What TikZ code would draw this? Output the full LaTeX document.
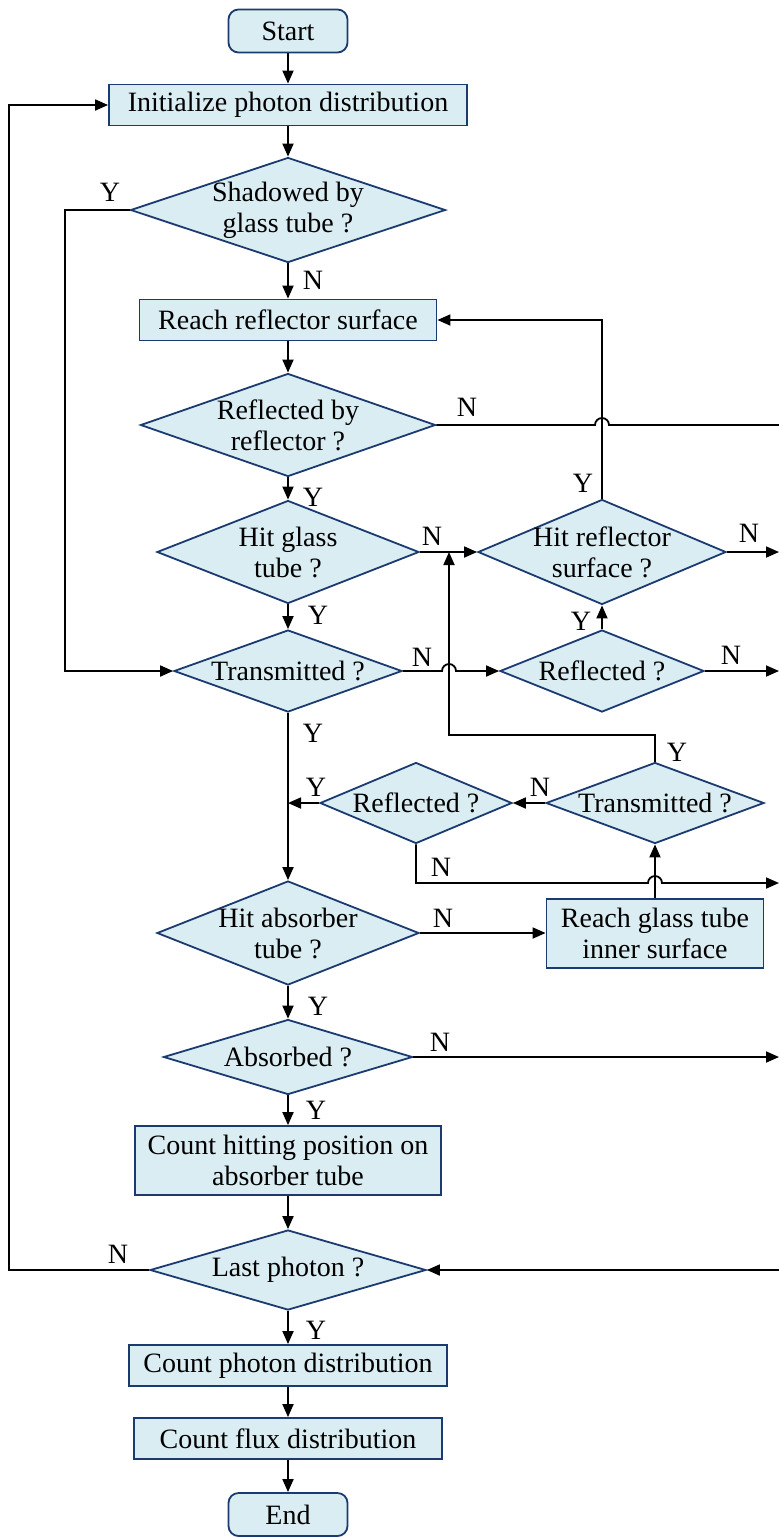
\documentclass[tikz,border=0pt]{standalone}
\usepackage{fontspec}
\setmainfont{Liberation Serif}
\usetikzlibrary{calc,shapes.geometric,arrows.meta}
\definecolor{boxfill}{HTML}{DAEDF3}
\definecolor{boxline}{HTML}{1B3A6F}

\begin{document}
\begin{tikzpicture}[x=0.5pt, y=-0.5pt, >={Triangle[length=6.5pt,width=5.5pt]},
    every node/.style={font=\fontsize{14}{15.5}\selectfont},
    term/.style={draw=boxline, fill=boxfill, line width=0.9pt, rounded corners=5pt, minimum width=59.5pt, minimum height=21.5pt, inner sep=0pt},
    proc/.style={draw=boxline, fill=boxfill, line width=0.9pt, minimum height=20.5pt, inner sep=0pt, align=center},
    dec/.style={draw=boxline, fill=boxfill, line width=0.9pt, shape=diamond, aspect=2.5, inner xsep=-12pt, inner ysep=-3pt, align=center},
    lbl/.style={inner sep=0pt},
    flow/.style={->, line width=0.9pt}]
    \useasboundingbox (0,0) rectangle (779,1539);

    % Main column
    \node[term] (start) at (288,31) {Start};
    \node[proc, minimum width=179pt] (init) at (288,105) {Initialize photon distribution};
    \node[dec, minimum width=157.5pt, minimum height=52.5pt] (shadow) at (288,210) {Shadowed by\\glass tube ?};
    \node[proc, minimum width=148.5pt] (reach) at (288,320) {Reach reflector surface};
    \node[dec, minimum width=147.5pt, minimum height=51.5pt] (refl) at (288,425) {Reflected by\\reflector ?};
    \node[dec, minimum width=131pt, minimum height=51.5pt] (hitg) at (288,552) {Hit glass\\tube ?};
    \node[dec, minimum width=114pt, minimum height=41pt] (trans) at (288,671) {Transmitted ?};
    \node[dec, minimum width=131pt, minimum height=52pt] (hita) at (288,933) {Hit absorber\\tube ?};
    \node[dec, minimum width=124.5pt, minimum height=37.5pt] (absb) at (288,1057) {Absorbed ?};
    \node[proc, minimum width=153pt, minimum height=34.5pt] (count) at (288,1160.5) {Count hitting position on\\absorber tube};
    \node[dec, minimum width=138pt, minimum height=40pt] (last) at (288,1270) {Last photon ?};
    \node[proc, minimum width=159pt] (cphot) at (288,1365.5) {Count photon distribution};
    \node[proc, minimum width=154pt] (cflux) at (288,1438.5) {Count flux distribution};
    \node[term] (end) at (288,1514.5) {End};

    % Right branch
    \node[dec, minimum width=124pt, minimum height=52.5pt] (hitr) at (602,552) {Hit reflector\\surface ?};
    \node[dec, minimum width=102pt, minimum height=41pt] (reflb) at (602,671) {Reflected ?};
    \node[dec, minimum width=109pt, minimum height=40.5pt] (transb) at (655,803) {Transmitted ?};
    \node[dec, minimum width=96pt, minimum height=40.5pt] (reflc) at (416,803) {Reflected ?};
    \node[proc, minimum width=108.5pt, minimum height=34.5pt] (inner) at (655,933.5) {Reach glass tube\\inner surface};

    % Free ends at the right edge
    \coordinate (eR1) at (779,425);
    \coordinate (eR2) at (779,552);
    \coordinate (eR3) at (779,671);
    \coordinate (eR4) at (779,883);
    \coordinate (eR5) at (779,1057);
    \coordinate (eR6) at (779,1270);
    \coordinate (vx) at (449,735);

    % Straight flow
    \draw[flow] (start) -- (init);
    \draw[flow] (init) -- (shadow);
    \draw[flow] (shadow) -- (reach);
    \draw[flow] (reach) -- (refl);
    \draw[flow] (refl) -- (hitg);
    \draw[flow] (hitg) -- (trans);
    \draw[flow] (trans) -- (hita);
    \draw[flow] (hita) -- (absb);
    \draw[flow] (absb) -- (count);
    \draw[flow] (count) -- (last);
    \draw[flow] (last) -- (cphot);
    \draw[flow] (cphot) -- (cflux);
    \draw[flow] (cflux) -- (end);

    % Loops and side branches
    \draw[flow] (shadow.west) -- ++(-65,0) |- (trans.west);
    \draw[flow] (last.west) -- ++(-140,0) |- (init.west);
    \draw[line width=0.9pt] (refl.east) -- ($(refl.east -| hitr.north)+(-7,0)$) arc[start angle=180, end angle=0, radius=3.5pt] -- (eR1);
    \draw[flow] (hitr.north) |- (reach.east);
    \draw[flow] (hitg.east) -- (hitr.west);
    \draw[flow] (hitr.east) -- (eR2);
    \draw[flow] (trans.east) -- ($(trans.east -| vx)+(-7,0)$) arc[start angle=180, end angle=0, radius=3.5pt] -- (reflb.west);
    \draw[flow] (reflb.north) -- (hitr.south);
    \draw[flow] (reflb.east) -- (eR3);
    \draw[flow] (transb.north) |- (vx) -- (vx |- hitg.east);
    \draw[flow] (transb.west) -- (reflc.east);
    \draw[flow] (reflc.west) -- (reflc.west -| trans.south);
    \draw[flow] (reflc.south) |- ($(eR4 -| transb.south)+(-7,0)$) arc[start angle=180, end angle=0, radius=3.5pt] -- (eR4);
    \draw[flow] (hita.east) -- (hita.east -| inner.west);
    \draw[flow] (inner) -- (transb);
    \draw[flow] (absb.east) -- (eR5);
    \draw[flow] (eR6) -- (last.east);

    % Y / N labels
    \node[lbl] (y1) at (110,192) {Y};
    \node[lbl] (n1) at (313,280) {N};
    \node[lbl] (n2) at (467,407) {N};
    \node[lbl] (y2) at (313,497) {Y};
    \node[lbl] (n3) at (432,536) {N};
    \node[lbl] (y3) at (583,483) {Y};
    \node[lbl] (n4) at (749,533) {N};
    \node[lbl] (y4) at (318,615) {Y};
    \node[lbl] (n5) at (422,657) {N};
    \node[lbl] (y5) at (581,621) {Y};
    \node[lbl] (n6) at (731,655) {N};
    \node[lbl] (y6) at (313,733) {Y};
    \node[lbl] (y7) at (677,752) {Y};
    \node[lbl] (n7) at (540,787) {N};
    \node[lbl] (y8) at (316,787) {Y};
    \node[lbl] (n8) at (441,867) {N};
    \node[lbl] (n9) at (443,918) {N};
    \node[lbl] (y9) at (318,1006) {Y};
    \node[lbl] (n10) at (440,1042) {N};
    \node[lbl] (y10) at (316,1110) {Y};
    \node[lbl] (n11) at (118,1254) {N};
    \node[lbl] (y11) at (316,1330) {Y};
\end{tikzpicture}
\end{document}
